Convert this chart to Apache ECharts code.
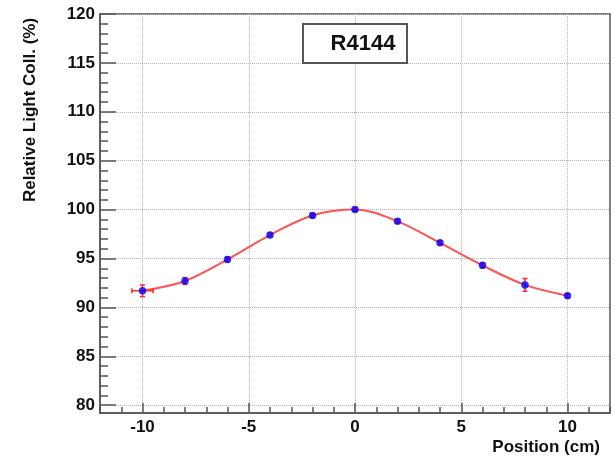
<!DOCTYPE html>
<html><head><meta charset="utf-8">
<script src="https://cdn.jsdelivr.net/npm/echarts@6/dist/echarts.min.js"></script>
<style>html,body{margin:0;padding:0;background:#fff}#c{width:614px;height:457px}</style>
</head><body><div id="c"></div>
<script>
const positions = [-10, -8, -6, -4, -2, 0, 2, 4, 6, 8, 10];
const lightColl = [91.7, 92.7, 94.9, 97.4, 99.4, 100.0, 98.8, 96.6, 94.3, 92.3, 91.2];
const posErr = [0.5, 0, 0, 0, 0, 0, 0, 0, 0, 0, 0];
const collErr = [0.6, 0.35, 0.25, 0.2, 0.2, 0.2, 0.2, 0.2, 0.25, 0.65, 0.2];
const xTicks = [-10, -5, 0, 5, 10];
const xMinorTicks = [-12, -11, -10, -9, -8, -7, -6, -5, -4, -3, -2, -1, 0, 1, 2, 3, 4, 5, 6, 7, 8, 9, 10, 11, 12];
const yTicks = [80, 85, 90, 95, 100, 105, 110, 115, 120];
const yMinorTicks = [80, 81, 82, 83, 84, 85, 86, 87, 88, 89, 90, 91, 92, 93, 94, 95, 96, 97, 98, 99, 100, 101, 102, 103, 104, 105, 106, 107, 108, 109, 110, 111, 112, 113, 114, 115, 116, 117, 118, 119, 120];
const titleText = 'R4144';
const xName = 'Position (cm)';
const yName = 'Relative Light Coll. (%)';

const FONT = '"Liberation Sans", Arial, sans-serif';
const axisColor = '#555';
const chart = echarts.init(document.getElementById('c'));

const points = positions.map((x, i) => [x, lightColl[i], posErr[i], collErr[i]]);

const lblStyle = { color: '#111', fontFamily: FONT, fontWeight: 'bold', fontSize: 17 };

chart.setOption({
  animation: false,
  backgroundColor: '#fff',
  grid: { left: 100, right: 4, top: 14, bottom: 44, show: true, borderColor: axisColor, borderWidth: 1.5, backgroundColor: 'transparent' },
  xAxis: [
    {
      type: 'value', min: -12, max: 12, interval: 1, position: 'bottom',
      axisLine: { show: true, onZero: false, lineStyle: { color: axisColor, width: 1.5 } },
      axisTick: { show: true, inside: true, length: 10, customValues: xTicks, lineStyle: { color: axisColor, width: 1.5 } },
      axisLabel: Object.assign({ show: true, margin: 6, customValues: xTicks }, lblStyle),
      splitLine: { show: true, lineStyle: { color: '#b4b4b4', type: 'dotted', width: 1 } }
    },
    {
      type: 'value', min: -12, max: 12, interval: 1, position: 'bottom',
      axisLine: { show: false, onZero: false },
      axisTick: { show: true, inside: true, length: 6, customValues: xMinorTicks, lineStyle: { color: axisColor, width: 1.5 } },
      axisLabel: { show: false },
      splitLine: { show: false }
    }
  ],
  yAxis: [
    {
      type: 'value', min: 79.2, max: 120, position: 'left',
      axisLine: { show: true, onZero: false, lineStyle: { color: axisColor, width: 1.5 } },
      axisTick: { show: true, inside: true, length: 16, customValues: yTicks, lineStyle: { color: axisColor, width: 1.5 } },
      axisLabel: Object.assign({ show: true, margin: 5, customValues: yTicks }, lblStyle),
      splitLine: { show: true, lineStyle: { color: '#b4b4b4', type: 'dotted', width: 1 } }
    },
    {
      type: 'value', min: 79.2, max: 120, position: 'left',
      axisLine: { show: false, onZero: false },
      axisTick: { show: true, inside: true, length: 8, customValues: yMinorTicks, lineStyle: { color: axisColor, width: 1.5 } },
      axisLabel: { show: false },
      splitLine: { show: false }
    }
  ],
  series: [
    {
      type: 'line', data: points.map(p => [p[0], p[1]]), smooth: 0.35,
      showSymbol: false, symbol: 'none',
      lineStyle: { color: '#ff5252', width: 2 }, z: 3
    },
    {
      type: 'custom', z: 4,
      data: points,
      renderItem: function (params, api) {
        const x = api.value(0), y = api.value(1), ex = api.value(2), ey = api.value(3);
        const children = [];
        const st = { stroke: '#ff2a2a', lineWidth: 1.5 };
        if (ey > 0) {
          const a = api.coord([x, y - ey]), b = api.coord([x, y + ey]);
          children.push({ type: 'line', shape: { x1: a[0], y1: a[1], x2: b[0], y2: b[1] }, style: st });
          children.push({ type: 'line', shape: { x1: a[0] - 2.5, y1: a[1], x2: a[0] + 2.5, y2: a[1] }, style: st });
          children.push({ type: 'line', shape: { x1: b[0] - 2.5, y1: b[1], x2: b[0] + 2.5, y2: b[1] }, style: st });
        }
        if (ex > 0) {
          const a = api.coord([x - ex, y]), b = api.coord([x + ex, y]);
          children.push({ type: 'line', shape: { x1: a[0], y1: a[1], x2: b[0], y2: b[1] }, style: st });
          children.push({ type: 'line', shape: { x1: a[0], y1: a[1] - 2.5, x2: a[0], y2: a[1] + 2.5 }, style: st });
          children.push({ type: 'line', shape: { x1: b[0], y1: b[1] - 2.5, x2: b[0], y2: b[1] + 2.5 }, style: st });
        }
        return { type: 'group', children: children };
      }
    },
    {
      type: 'scatter', data: points.map(p => [p[0], p[1]]), symbol: 'circle', symbolSize: 7.5,
      itemStyle: { color: '#0000ff' }, z: 5
    }
  ],
  graphic: [
    { type: 'rect', shape: { x: 303, y: 24, width: 104, height: 39 }, style: { fill: '#fff', stroke: '#555', lineWidth: 2 }, z: 100 },
    { type: 'text', x: 363, y: 44, z: 101, style: { text: titleText, fill: '#111', font: 'bold 22px "Liberation Sans", Arial, sans-serif', textAlign: 'center', textVerticalAlign: 'middle' } },
    { type: 'text', x: 30, y: 110, rotation: Math.PI / 2, z: 101, style: { text: yName, fill: '#111', font: 'bold 17px "Liberation Sans", Arial, sans-serif', textAlign: 'center', textVerticalAlign: 'middle' } },
    { type: 'text', x: 600, y: 447, z: 101, style: { text: xName, fill: '#111', font: 'bold 17px "Liberation Sans", Arial, sans-serif', textAlign: 'right', textVerticalAlign: 'middle' } }
  ]
});
</script>
</body></html>
